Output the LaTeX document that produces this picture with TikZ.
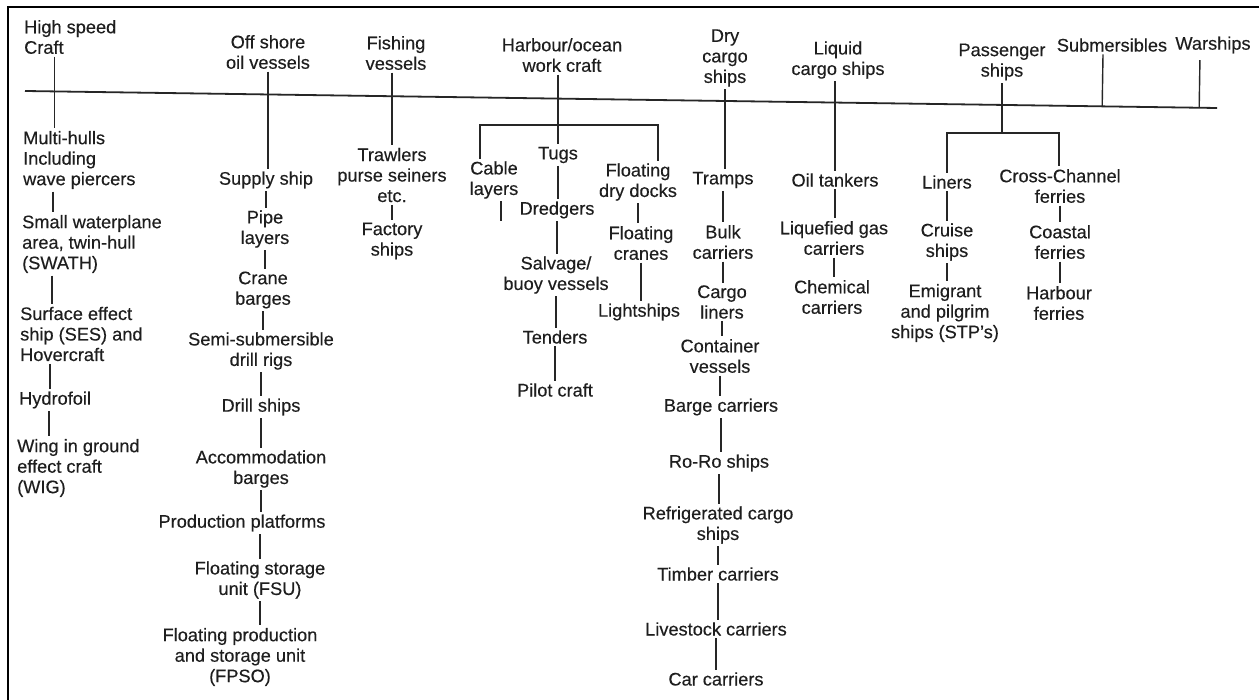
\documentclass[tikz,border=0pt]{standalone}
\usepackage{fontspec}
\setmainfont{Liberation Sans}[FakeBold=0.3]
\usetikzlibrary{calc}
\definecolor{txt}{RGB}{30,30,30}
\newcommand\labfont{\fontsize{18.2}{20.5}\selectfont}
\tikzset{
  lab/.style={font=\labfont, align=center, inner sep=2.5pt, text=txt},
  labl/.style={lab, align=left, anchor=west},
  conn/.style={line width=1.4pt, draw=black!85},
  mainline/.style={line width=1.8pt, draw=black!85},
}
\begin{document}
\begin{tikzpicture}[x=1pt,y=-1pt]
\useasboundingbox (0,0) rectangle (1259,700);
\fill[white] (0,0) rectangle (1259,700);
% frame
\draw[line width=2pt] (8,700) -- (8,7) -- (1259,7);
% main line
\coordinate (mlL) at (25,91);
\coordinate (mlR) at (1217,108);
\draw[mainline] (mlL) -- (mlR);

% ---- column 1: high speed craft
\node[labl] (hs)  at (21.5,37)  {High speed\\Craft};
\node[labl] (mh)  at (20.5,160) {Multi-hulls\\Including\\wave piercers};
\node[labl] (sw)  at (19.5,244) {Small waterplane\\area, twin-hull\\(SWATH)};
\node[labl] (ses) at (17.5,334) {Surface effect\\ship (SES) and\\Hovercraft};
\node[labl] (hf)  at (16.5,400) {Hydrofoil};
\node[labl] (wig) at (14.5,468) {Wing in ground\\effect craft\\(WIG)};
\draw[conn] ([xshift=33pt]hs.south west) -- ([xshift=33pt]hs.south west |- mh.north);
\draw[conn] ([xshift=32.5pt]mh.south west) -- ([xshift=32.5pt]mh.south west |- sw.north);
\draw[conn] ([xshift=32.5pt]sw.south west) -- ([xshift=32.5pt]sw.south west |- ses.north);
\draw[conn] ([xshift=32.5pt]ses.south west) -- ([xshift=32.5pt]ses.south west |- hf.north);
\draw[conn] ([xshift=32.5pt]hf.south west) -- ([xshift=32.5pt]hf.south west |- wig.north);

% ---- column 2: off shore oil vessels
\node[lab] (os)   at (268,52)  {Off shore\\oil vessels};
\node[lab] (ss)   at (266,180) {Supply ship};
\node[lab] (pl)   at (265,229) {Pipe\\layers};
\node[lab] (cb)   at (263,290) {Crane\\barges};
\node[lab] (sd)   at (261,351) {Semi-submersible\\drill rigs};
\node[lab] (ds)   at (261,407) {Drill ships};
\node[lab] (ab)   at (261,469) {Accommodation\\barges};
\node[lab] (pp)   at (242,523) {Production platforms};
\node[lab] (fsu)  at (260,580) {Floating storage\\unit (FSU)};
\node[lab] (fpso) at (240,657) {Floating production\\and storage unit\\(FPSO)};
\draw[conn] (os.south) -- (os.south |- ss.north);
\draw[conn] (ss.south) -- (ss.south |- pl.north);
\draw[conn] (pl.south) -- (pl.south |- cb.north);
\draw[conn] (cb.south) -- (cb.south |- sd.north);
\draw[conn] (sd.south) -- (sd.south |- ds.north);
\draw[conn] (ds.south) -- (ds.south |- ab.north);
\draw[conn] (ab.south) -- (ab.south |- pp.north);
\draw[conn] (fsu.north |- pp.south) -- (fsu.north);
\draw[conn] (fsu.south) -- (fsu.south |- fpso.north);

% ---- column 3: fishing vessels
\node[lab] (fv) at (396,53)  {Fishing\\vessels};
\node[lab] (tr) at (392,175) {Trawlers\\purse seiners\\etc.};
\node[lab] (fs) at (392,241) {Factory\\ships};
\draw[conn] (tr.north |- fv.south) -- (tr.north);
\draw[conn] (tr.south) -- (tr.south |- fs.north);

% ---- column 4: harbour/ocean work craft
\node[lab] (hw)   at (562,55)  {Harbour/ocean\\work craft};
\node[lab] (tugs) at (558,155) {Tugs};
\node[lab] (cl)   at (494,180) {Cable\\layers};
\node[lab] (fdd)  at (638,182) {Floating\\dry docks};
\node[lab] (dr)   at (557,210) {Dredgers};
\node[lab] (sb)   at (556,275) {Salvage/\\buoy vessels};
\node[lab] (te)   at (555,337) {Tenders};
\node[lab] (pc)   at (555,390) {Pilot craft};
\node[lab] (fc)   at (641,243) {Floating\\cranes};
\node[lab] (ls)   at (639,312) {Lightships};
\coordinate (hbr) at (558,125);
\coordinate (clend) at (501,221);
\draw[conn] (tugs.north |- hw.south) -- (tugs.north);
\draw[conn] ([xshift=-14pt]cl.north) |- (hbr) -| ([xshift=20pt]fdd.north);
\draw[conn, line width=2.2pt] (cl.south -| clend) -- (clend);
\draw[conn] (tugs.south) -- (tugs.south |- dr.north);
\draw[conn] (dr.south) -- (dr.south |- sb.north);
\draw[conn] (sb.south) -- (sb.south |- te.north);
\draw[conn] (te.south) -- (te.south |- pc.north);
\draw[conn] (fdd.south) -- (fdd.south |- fc.north);
\draw[conn] (fc.south) -- (fc.south |- ls.north);

% ---- column 5: dry cargo ships
\node[lab] (dc)  at (725,58)  {Dry\\cargo\\ships};
\node[lab] (tp)  at (723,180) {Tramps};
\node[lab] (bc)  at (723,242) {Bulk\\carriers};
\node[lab] (cgl) at (722,302) {Cargo\\liners};
\node[lab] (cv)  at (720,356) {Container\\vessels};
\node[lab] (bac) at (721,407) {Barge carriers};
\node[lab] (rr)  at (719,463) {Ro-Ro ships};
\node[lab] (rc)  at (718,525) {Refrigerated cargo\\ships};
\node[lab] (tc)  at (718,574) {Timber carriers};
\node[lab] (lc)  at (716,629) {Livestock carriers};
\node[lab] (cc)  at (716,679) {Car carriers};
\draw[conn] (dc.south) -- (dc.south |- tp.north);
\draw[conn] (tp.south) -- (tp.south |- bc.north);
\draw[conn] (bc.south) -- (bc.south |- cgl.north);
\draw[conn] (cgl.south) -- (cgl.south |- cv.north);
\draw[conn] (cv.south) -- (cv.south |- bac.north);
\draw[conn] (bac.south) -- (bac.south |- rr.north);
\draw[conn] (rr.south) -- (rr.south |- rc.north);
\draw[conn] (rc.south) -- (rc.south |- tc.north);
\draw[conn] (tc.south) -- (tc.south |- lc.north);
\draw[conn] (lc.south) -- (lc.south |- cc.north);

% ---- column 6: liquid cargo ships
\node[lab] (lq) at (838,60)  {Liquid\\cargo ships};
\node[lab] (ot) at (835,180) {Oil tankers};
\node[lab] (lg) at (834,238) {Liquefied gas\\carriers};
\node[lab] (ch) at (832,297) {Chemical\\carriers};
\draw[conn] (ot.north |- lq.south) -- (ot.north);
\draw[conn] (ot.south) -- (ot.south |- lg.north);
\draw[conn] (lg.south) -- (lg.south |- ch.north);

% ---- column 7: passenger ships
\node[lab] (ps) at (1002,62)  {Passenger\\ships};
\node[lab] (li) at (947,182)  {Liners};
\node[lab] (cr) at (947,242)  {Cruise\\ships};
\node[lab] (em) at (945,313)  {Emigrant\\and pilgrim\\ships (STP's)};
\node[lab] (cx) at (1060,186) {Cross-Channel\\ferries};
\node[lab] (co) at (1060,242) {Coastal\\ferries};
\node[lab] (hb) at (1059,303) {Harbour\\ferries};
\coordinate (pbr) at (1002,133);
\draw[conn] (ps.south) -- (pbr);
\draw[conn] (li.north) |- (pbr) -| ([xshift=-1pt]cx.north);
\draw[conn] (li.south) -- (li.south |- cr.north);
\draw[conn] (cr.south) -- (cr.south |- em.north);
\draw[conn] (cx.south) -- (cx.south |- co.north);
\draw[conn] (co.south) -- (co.south |- hb.north);

% ---- submersibles, warships
\node[lab] (sub) at (1112,45) {Submersibles};
\node[lab] (war) at (1213,45) {Warships};
\draw[conn] ([xshift=-9pt]sub.south) -- ($(mlL)!([xshift=-9pt]sub.south)!(mlR)$);
\draw[conn, shorten <=4pt] ([xshift=-13pt]war.south) -- ($(mlL)!([xshift=-13pt]war.south)!(mlR)$);
\end{tikzpicture}
\end{document}
